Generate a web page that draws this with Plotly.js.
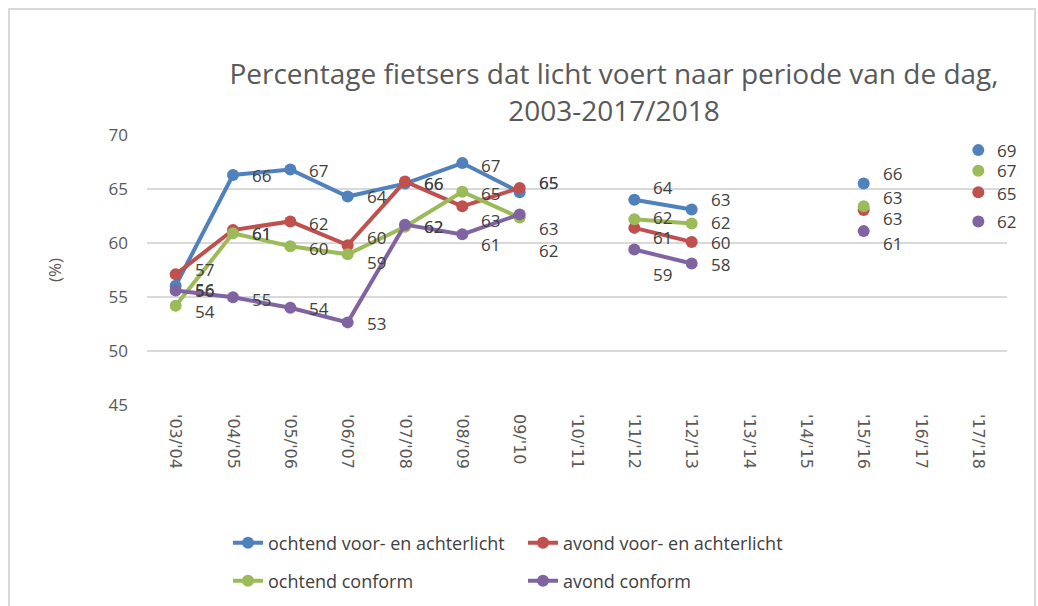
<!DOCTYPE html>
<html><head><meta charset="utf-8">
<script src="https://cdn.plot.ly/plotly-3.0.1.min.js"></script>
<style>html,body{margin:0;padding:0;background:#fff}#chart{width:1038px;height:606px}</style>
</head><body><div id="chart"></div>
<script>
const categories = ["'03/'04", "'04/'05", "'05/'06", "'06/'07", "'07/'08", "'08/'09", "09/'10", "'10/'11", "'11/'12", "'12/'13", "'13/'14", "'14/'15", "'15/'16", "'16/'17", "'17/'18"];
const seriesNames = ["ochtend voor- en achterlicht", "avond voor- en achterlicht", "ochtend conform", "avond conform"];
const ochtendVoorAchter = [56.05, 66.3, 66.8, 64.3, 65.5, 67.4, 64.7, null, 64.0, 63.1, null, null, 65.5, null, 68.6];
const avondVoorAchter   = [57.1, 61.2, 62.0, 59.8, 65.7, 63.4, 65.1, null, 61.4, 60.1, null, null, 63.05, null, 64.7];
const ochtendConform    = [54.2, 60.9, 59.7, 58.95, 61.5, 64.75, 62.35, null, 62.2, 61.8, null, null, 63.4, null, 66.7];
const avondConform      = [55.6, 54.97, 54.0, 52.65, 61.7, 60.8, 62.65, null, 59.4, 58.1, null, null, 61.1, null, 62.0];

// label placement (pixel shift downward of each data label)
const labelDy = [
  [4.3, 1, 1, 0, -0.2, 2, -9.3, 0, -12, -10, 0, 0, -10, 0, 0],
  [-5, 3.3, 2, -8, 2, 14, -5, 0, 10, 1, 0, 0, 8, 0, 1],
  [6, 0, 2, 8, 0, 2, 33, 0, -2, -1, 0, 0, -9, 0, 0],
  [0, 2, 1, 1, 2.2, 10, 14, 0, 25, 1, 0, 0, 12, 0, 0]
];
const colors = ['#4F81BD', '#C0504D', '#9BBB59', '#8064A2'];
const allSeries = [ochtendVoorAchter, avondVoorAchter, ochtendConform, avondConform];
const legendIds = ['legend', 'legend', 'legend2', 'legend2'];

const traces = allSeries.map((vals, k) => ({
  type: 'scatter', mode: 'lines+markers', name: seriesNames[k],
  x: categories, y: vals, connectgaps: false,
  line: {color: colors[k], width: 4},
  marker: {color: colors[k], size: 12},
  legend: legendIds[k], hoverinfo: 'skip'
}));

const labelFont = {family: 'Open Sans', size: 17, color: '#404040'};
const annotations = [];
allSeries.forEach((vals, k) => {
  vals.forEach((v, i) => {
    if (v === null) return;
    annotations.push({
      x: categories[i], y: v, xref: 'x', yref: 'y',
      text: String(Math.round(v)), showarrow: false,
      xanchor: 'left', yanchor: 'middle', xshift: 17, yshift: -labelDy[k][i],
      font: labelFont
    });
  });
});

const legendBase = {
  orientation: 'h', xref: 'container', yref: 'container', xanchor: 'left', yanchor: 'middle',
  entrywidth: 250, entrywidthmode: 'pixels', bgcolor: 'rgba(0,0,0,0)',
  font: {family: 'Open Sans', size: 18, color: '#404040'}, itemclick: false, itemdoubleclick: false
};

const layout = {
  width: 1038, height: 606,
  margin: {l: 147, r: 31, t: 135, b: 201},
  paper_bgcolor: '#ffffff', plot_bgcolor: '#ffffff',
  hovermode: false, showlegend: true,
  title: {
    text: 'Percentage fietsers dat licht voert naar periode van de dag,<br>2003-2017/2018',
    font: {family: 'Open Sans', size: 28, color: '#595959'},
    xref: 'container', x: 0.5915, xanchor: 'center',
    yref: 'container', y: 0.861, yanchor: 'top'
  },
  xaxis: {
    type: 'category', categoryorder: 'array', categoryarray: categories,
    range: [-0.5, 14.5], tickangle: 90, showgrid: false, showline: false, zeroline: false,
    ticks: '', ticklabelstandoff: 8,
    tickfont: {family: 'DejaVu Sans', size: 16, color: '#595959'}
  },
  yaxis: {
    range: [45, 70], dtick: 5, tick0: 45, showgrid: true, gridcolor: '#d9d9d9', gridwidth: 1.5,
    zeroline: false, showline: false, ticks: '', ticklabelstandoff: 18,
    tickfont: {family: 'Open Sans', size: 17, color: '#595959'},
    title: {text: '(%)', font: {family: 'Open Sans', size: 17, color: '#595959'}, standoff: 42}
  },
  legend: Object.assign({}, legendBase, {x: 228 / 1038, y: 1 - 543 / 606}),
  legend2: Object.assign({}, legendBase, {x: 228 / 1038, y: 1 - 581 / 606}),
  annotations: annotations,
  shapes: [{
    type: 'rect', xref: 'paper', yref: 'paper',
    x0: (9 - 147) / 860, x1: (1035 - 147) / 860, y0: (405 - 640) / 270, y1: (405 - 9) / 270,
    line: {color: '#d9d9d9', width: 2}, fillcolor: 'rgba(0,0,0,0)', layer: 'below'
  }]
};

Plotly.newPlot('chart', traces, layout, {displayModeBar: false, staticPlot: true});
</script>
</body></html>
